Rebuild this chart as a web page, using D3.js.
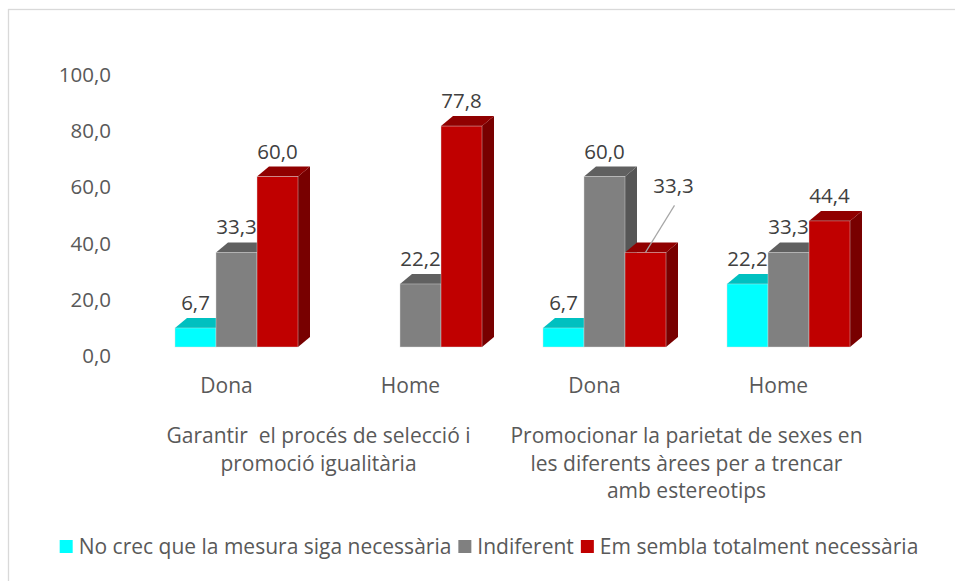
<!DOCTYPE html>
<html>
<head>
<meta charset="utf-8">
<script src="https://cdn.jsdelivr.net/npm/d3@7"></script>
<style>
  html, body { margin: 0; padding: 0; background: #fff; }
  svg { display: block; }
  text { font-family: "Open Sans", Lato, sans-serif; }
</style>
</head>
<body>
<svg id="chart" width="955" height="581"></svg>
<script>
// ---- data ----
const series = ["No crec que la mesura siga necessària", "Indiferent", "Em sembla totalment necessària"];
const subCategories = ["Dona", "Home", "Dona", "Home"];
const groupLabels = [
  ["Garantir  el procés de selecció i", "promoció igualitària"],
  ["Promocionar la parietat de sexes en", "les diferents àrees per a trencar", "amb estereotips"]
];
const noCrec = [6.7, null, 6.7, 22.2];
const indiferent = [33.3, 22.2, 60.0, 33.3];
const emSembla = [60.0, 77.8, 33.3, 44.4];
const yTicks = [0, 20, 40, 60, 80, 100];

// ---- styles ----
const faceColors = [
  { front: "#00FFFF", top: "#00C0C0", side: "#00A8A8" },
  { front: "#808080", top: "#606060", side: "#565656" },
  { front: "#C00000", top: "#900000", side: "#780000" }
];
const depthX = 12, depthY = 10;
const textColor = "#595959";
const labelColor = "#404040";
const fontSize = "21px";
const numSize = "20.5px";

const svg = d3.select("#chart");

// frame
svg.append("rect").attr("x", 8.5).attr("y", 9.5).attr("width", 960).attr("height", 600)
  .attr("fill", "#fff").attr("stroke", "#d9d9d9").attr("stroke-width", 1.3);

const values = [noCrec, indiferent, emSembla];
const ids = subCategories.map((d, i) => i);

const x0 = d3.scaleBand().domain(ids).range([144.5, 880.5]).paddingInner(61 / 184).paddingOuter(30.5 / 184);
const x1 = d3.scaleBand().domain(d3.range(series.length)).range([0, x0.bandwidth()]);
const y = d3.scaleLinear().domain([0, 100]).range([347, 63]);
const yAxisScale = d3.scaleLinear().domain([0, 100]).range([356, 75]);

const locale = d3.formatLocale({ decimal: ",", thousands: ".", grouping: [3], currency: ["", "€"] });
const fmt = locale.format(".1f");

// y axis labels
const axisG = svg.append("g").attr("transform", "translate(111,0)")
  .call(d3.axisLeft(yAxisScale).tickValues(yTicks).tickFormat(fmt).tickSize(0).tickPadding(0));
axisG.select(".domain").remove();
axisG.selectAll("text").attr("fill", textColor).style("font-size", numSize)
  .style("font-family", "'Open Sans', Lato, sans-serif");

// bars (painter order left -> right)
const barsG = svg.append("g");
const bars = [];
ids.forEach(gi => {
  series.forEach((s, si) => {
    const v = values[si][gi];
    if (v === null || v === 0) return;
    const xl = x0(gi) + x1(si);
    const xr = xl + x1.bandwidth();
    const yt = y(v), yb = y(0);
    const c = faceColors[si];
    const g = barsG.append("g");
    g.append("polygon")
      .attr("points", [[xr, yb], [xr + depthX, yb - depthY], [xr + depthX, yt - depthY], [xr, yt]].join(" "))
      .attr("fill", c.side);
    g.append("polygon")
      .attr("points", [[xl, yt], [xl + depthX, yt - depthY], [xr + depthX, yt - depthY], [xr, yt]].join(" "))
      .attr("fill", c.top);
    g.append("rect").attr("x", xl).attr("y", yt).attr("width", xr - xl).attr("height", yb - yt)
      .attr("fill", c.front).attr("stroke", "rgba(220,220,220,0.7)").attr("stroke-width", 0.6);
    bars.push({ gi, si, v, cx: (xl + xr) / 2, yt });
  });
});

// data labels
const labelsG = svg.append("g");
bars.forEach(b => {
  let lx = b.cx, ly = b.yt - 18;
  if (b.gi === 2 && b.si === 2) {
    // moved label with leader line
    lx = b.cx + 28; ly = b.yt - 59;
    labelsG.append("line").attr("x1", lx + 1).attr("y1", ly + 12).attr("x2", b.cx).attr("y2", b.yt)
      .attr("stroke", "#a6a6a6").attr("stroke-width", 1.2);
  }
  labelsG.append("text").attr("x", lx).attr("y", ly).attr("text-anchor", "middle")
    .attr("fill", labelColor).style("font-size", numSize).text(fmt(b.v));
});

// sub-category labels
const catOffset = -10;
svg.append("g").selectAll("text").data(ids).join("text")
  .attr("x", d => x0(d) + x0.bandwidth() / 2 + catOffset)
  .attr("y", 393).attr("text-anchor", "middle").attr("fill", textColor).style("font-size", fontSize)
  .text(d => subCategories[d]);

// group labels
groupLabels.forEach((lines, k) => {
  const a = ids[k * 2], b = ids[k * 2 + 1];
  const cx = (x0(a) + x0(b) + x0.bandwidth()) / 2 + catOffset;
  const t = svg.append("text").attr("text-anchor", "middle").attr("fill", textColor)
    .style("font-size", fontSize).style("white-space", "pre");
  lines.forEach((ln, i) => {
    t.append("tspan").attr("x", cx).attr("y", 443 + i * 27.5).text(ln);
  });
});

// legend
const legendG = svg.append("g");
const items = series.map((s, i) => {
  const g = legendG.append("g");
  g.append("rect").attr("x", 0).attr("y", 540).attr("width", 13).attr("height", 13).attr("fill", faceColors[i].front);
  const t = g.append("text").attr("x", 19).attr("y", 554).attr("fill", textColor).style("font-size", fontSize).text(s);
  return { g, w: 19 + t.node().getComputedTextLength() };
});
const gap = 7;
const total = d3.sum(items, d => d.w) + gap * (items.length - 1);
let cur = 489 - total / 2;
items.forEach(it => { it.g.attr("transform", `translate(${cur},0)`); cur += it.w + gap; });
</script>
</body>
</html>
